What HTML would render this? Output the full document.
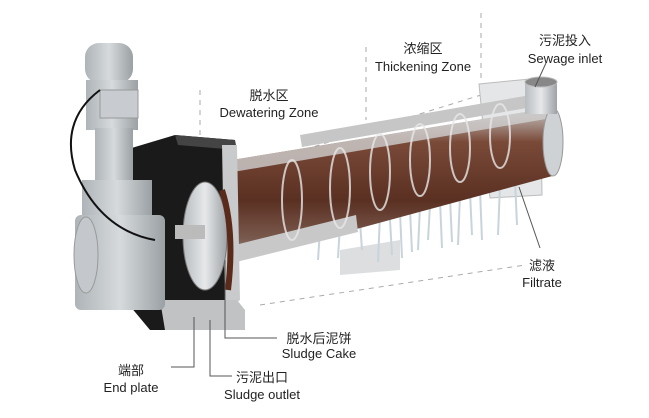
<!DOCTYPE html>
<html><head><meta charset="utf-8"><style>
html,body{margin:0;padding:0;background:#fff;}
svg{display:block;}
text{font-family:"Liberation Sans","Noto Sans CJK SC",sans-serif;font-size:13px;fill:#222;text-anchor:middle;}
</style></head><body>
<svg width="649" height="418" viewBox="0 0 649 418" xmlns="http://www.w3.org/2000/svg">
<defs>
<linearGradient id="cyl" x1="0" y1="0" x2="0" y2="1">
<stop offset="0" stop-color="#c8c8c8"/><stop offset="0.22" stop-color="#7a4a38"/><stop offset="0.6" stop-color="#5a3022"/><stop offset="0.85" stop-color="#7a5a4e"/><stop offset="1" stop-color="#a0a0a0"/></linearGradient>
<linearGradient id="metal" x1="0" y1="0" x2="1" y2="0">
<stop offset="0" stop-color="#b8bcc0"/><stop offset="0.5" stop-color="#e6e8ea"/><stop offset="1" stop-color="#9ea2a6"/></linearGradient>
<linearGradient id="gray" x1="0" y1="0" x2="1" y2="0">
<stop offset="0" stop-color="#aeb4b8"/><stop offset="0.5" stop-color="#d6dadc"/><stop offset="1" stop-color="#9aa0a4"/></linearGradient>
</defs>
<g stroke="#aaa" stroke-width="1" stroke-dasharray="5,5" fill="none">
<line x1="200" y1="90" x2="200" y2="145"/>
<line x1="366" y1="47" x2="366" y2="120"/>
<line x1="481" y1="13" x2="481" y2="78"/>
<line x1="200" y1="182" x2="481" y2="95"/>
<line x1="260" y1="305" x2="525" y2="265"/>
</g>
<polygon points="479,84 540,78 542,195 490,198" fill="#e4e6e8" stroke="#bbb"/>
<polygon points="340,250 400,240 400,270 340,275" fill="#dcdedf"/>
<g stroke="#c8d4dc" stroke-width="2">
<line x1="320" y1="230" x2="318" y2="260"/><line x1="340" y1="225" x2="338" y2="258"/>
<line x1="380" y1="215" x2="378" y2="262"/><line x1="400" y1="212" x2="402" y2="258"/>
<line x1="420" y1="206" x2="418" y2="250"/><line x1="440" y1="200" x2="442" y2="248"/>
<line x1="460" y1="195" x2="458" y2="245"/><line x1="480" y1="190" x2="482" y2="240"/>
<line x1="500" y1="185" x2="498" y2="235"/><line x1="515" y1="180" x2="517" y2="225"/>
<line x1="390" y1="220" x2="392" y2="255"/><line x1="430" y1="205" x2="428" y2="240"/>
<line x1="470" y1="192" x2="472" y2="235"/><line x1="360" y1="222" x2="362" y2="250"/>
<line x1="410" y1="210" x2="412" y2="252"/><line x1="450" y1="198" x2="452" y2="242"/>
</g>
<polygon points="232,160 550,108 556,175 235,262" fill="url(#cyl)"/>
<polygon points="232,160 550,108 552,118 233,172" fill="#d0d0d0" opacity="0.8"/>
<polygon points="235,245 356,215 358,232 236,262" fill="#c8c8c8"/>
<polygon points="300,135 548,92 550,104 302,147" fill="#c6c6c6"/>
<g fill="none" stroke="#e8e8e8" stroke-width="2" opacity="0.8">
<ellipse cx="292" cy="200" rx="10" ry="40"/><ellipse cx="340" cy="188" rx="10" ry="40"/>
<ellipse cx="380" cy="172" rx="10" ry="38"/><ellipse cx="420" cy="160" rx="10" ry="36"/>
<ellipse cx="460" cy="148" rx="10" ry="34"/><ellipse cx="500" cy="136" rx="10" ry="32"/>
</g>
<ellipse cx="553" cy="142" rx="10" ry="34" fill="#cfd2d4" stroke="#999"/>
<rect x="525" y="82" width="32" height="32" fill="url(#metal)"/>
<ellipse cx="541" cy="82" rx="16" ry="5" fill="#888" stroke="#bbb"/>
<polygon points="125,150 175,135 235,140 237,300 210,330 150,330 125,300" fill="#1a1a1a"/>
<polygon points="175,135 235,140 237,150 178,145" fill="#444"/>
<polygon points="222,145 237,145 240,300 225,310" fill="#c8cacc"/>
<polygon points="160,300 237,300 245,310 245,330 165,330" fill="#c0c2c4"/>
<ellipse cx="205" cy="236" rx="22" ry="54" fill="url(#metal)" stroke="#777"/>
<rect x="175" y="225" width="30" height="14" fill="#bbb"/>
<path d="M222,190 Q235,230 228,290" stroke="#5a2a1a" stroke-width="6" fill="none"/>
<rect x="85" y="43" width="48" height="40" rx="14" fill="url(#gray)"/>
<rect x="86" y="80" width="52" height="50" fill="url(#gray)"/>
<rect x="100" y="90" width="38" height="28" fill="#c8ccd0" stroke="#999"/>
<rect x="95" y="128" width="38" height="55" fill="url(#gray)"/>
<rect x="82" y="180" width="70" height="40" fill="url(#gray)"/>
<rect x="75" y="215" width="90" height="95" rx="6" fill="url(#gray)"/>
<ellipse cx="86" cy="255" rx="12" ry="38" fill="#c4c8cc" stroke="#999"/>
<path d="M100,90 Q60,120 75,170 Q100,230 155,240" stroke="#111" stroke-width="2" fill="none"/>
<g stroke="#555" stroke-width="1" fill="none">
<polyline points="194,317 194,367 171,367"/>
<polyline points="210,320 210,376 232,376"/>
<polyline points="225,260 225,338 277,338"/>
<line x1="519" y1="187" x2="540" y2="248"/>
<line x1="546" y1="63" x2="535" y2="87"/>
</g>
<text x="269" y="100">脱水区</text><text x="269" y="117">Dewatering Zone</text>
<text x="423" y="53">浓缩区</text><text x="423" y="71">Thickening Zone</text>
<text x="565" y="45">污泥投入</text><text x="565" y="63">Sewage inlet</text>
<text x="542" y="270">滤液</text><text x="542" y="287">Filtrate</text>
<text x="319" y="343">脱水后泥饼</text><text x="319" y="358">Sludge Cake</text>
<text x="131" y="375">端部</text><text x="131" y="392">End plate</text>
<text x="262" y="382">污泥出口</text><text x="262" y="399">Sludge outlet</text>
</svg>
</body></html>
